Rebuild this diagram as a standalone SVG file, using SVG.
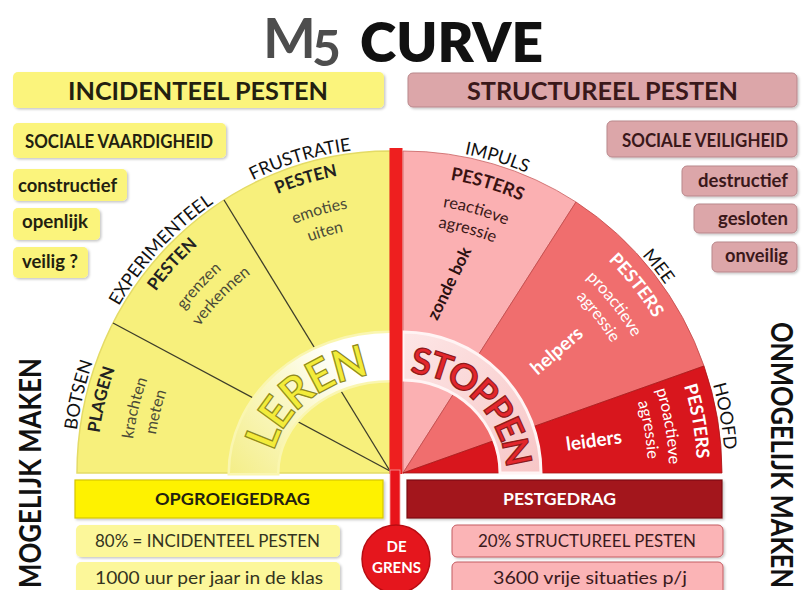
<svg xmlns="http://www.w3.org/2000/svg" width="803" height="590" viewBox="0 0 803 590">
<defs>
<style>
text{font-family:Lato,"Open Sans","Noto Sans",sans-serif}
.b{font-weight:700}
.yb{fill:#fbf47c}
.pb{fill:#dca6a9;stroke:#b9878b;stroke-width:1}
.dk{fill:#231f10}
.dr{fill:#3a181a}
.lab{font-size:18px;fill:#111}
.bl{font-size:17px;font-weight:700;fill:#222}
.lw{font-size:16px;fill:#4a4a38}
.rw{font-size:16.5px;fill:#3a1818}
.rb{font-size:18px;font-weight:700;fill:#3a1212}
.ww{font-size:16.5px;fill:#fff}
.wb{font-size:18px;font-weight:700;fill:#fff}
.sline{stroke:#3d3d2a;stroke-width:1.3;fill:none}
</style>
<filter id="sh" x="-5%" y="-10%" width="115%" height="140%">
<feDropShadow dx="1.5" dy="1.5" stdDeviation="1.2" flood-color="#000" flood-opacity="0.22"/>
</filter>
<linearGradient id="lg" gradientUnits="userSpaceOnUse" x1="230" y1="473" x2="390" y2="333">
<stop offset="0" stop-color="#f4ee88"/>
<stop offset="0.5" stop-color="#fbf9d2"/>
<stop offset="0.75" stop-color="#ffffff"/>
<stop offset="1" stop-color="#ffffff"/>
</linearGradient>
<linearGradient id="rg" gradientUnits="userSpaceOnUse" x1="403" y1="332" x2="541" y2="473">
<stop offset="0" stop-color="#fde6e6"/>
<stop offset="1" stop-color="#f7c6c6"/>
</linearGradient>
<path id="lo" d="M74,473 A316 325 0 0 1 390,148"/>
<path id="l20" d="M97,473 A293 302 0 0 1 390,171"/>
<path id="l54" d="M131,473 A259 268 0 0 1 390,205"/>
<path id="l76" d="M153,473 A237 246 0 0 1 390,227"/>
<path id="ro" d="M403,148 A322 325 0 0 1 725,473"/>
<path id="r25" d="M403,176 A294 297 0 0 1 697,473"/>
<path id="r53" d="M403,204 A266 269 0 0 1 669,473"/>
<path id="r74" d="M403,225 A245 248 0 0 1 648,473"/>
<path id="lerenP" d="M271,473 A119 99 0 0 1 390,374"/>
<path id="stopP" d="M403,373 A103 100 0 0 1 506,473"/>
</defs>
<rect width="803" height="590" fill="#fff"/>

<g id="title">
<text x="263" y="58" font-size="56" class="b" fill="#4d4d4d">M</text>
<text x="312" y="66" font-size="50" class="b" fill="#4d4d4d">5</text>
<text x="360" y="62" font-size="54" font-weight="800" fill="#111" textLength="183" lengthAdjust="spacingAndGlyphs">CURVE</text>
</g>

<g id="header-incidenteel">
<rect x="13" y="72" width="371" height="36" rx="5" class="yb" filter="url(#sh)"/>
<text x="68" y="100" font-size="25" class="b dk" textLength="260" lengthAdjust="spacingAndGlyphs">INCIDENTEEL PESTEN</text>
</g>
<g id="header-structureel">
<rect x="408" y="73" width="389" height="34" rx="5" class="pb" filter="url(#sh)"/>
<text x="467" y="100" font-size="25" class="b dr" textLength="271" lengthAdjust="spacingAndGlyphs">STRUCTUREEL PESTEN</text>
</g>

<g id="left-props">
<g id="sociale-vaardigheid"><rect x="13" y="123" width="213" height="35" rx="5" class="yb" filter="url(#sh)"/>
<text x="25" y="148" font-size="18" class="b dk" textLength="188" lengthAdjust="spacingAndGlyphs">SOCIALE VAARDIGHEID</text></g>
<g id="constructief"><rect x="13" y="169" width="114" height="32" rx="5" class="yb" filter="url(#sh)"/>
<text x="18" y="192" font-size="19" class="b dk" textLength="99" lengthAdjust="spacingAndGlyphs">constructief</text></g>
<g id="openlijk"><rect x="13" y="208" width="87" height="32" rx="5" class="yb" filter="url(#sh)"/>
<text x="22" y="228" font-size="19" class="b dk" textLength="66" lengthAdjust="spacingAndGlyphs">openlijk</text></g>
<g id="veilig"><rect x="13" y="247" width="75" height="31" rx="5" class="yb" filter="url(#sh)"/>
<text x="22" y="268" font-size="19" class="b dk" textLength="56" lengthAdjust="spacingAndGlyphs">veilig ?</text></g>
</g>

<g id="right-props">
<g id="sociale-veiligheid"><rect x="607" y="121" width="190" height="36" rx="5" class="pb" filter="url(#sh)"/>
<text x="622" y="147" font-size="18" class="b dr" textLength="166" lengthAdjust="spacingAndGlyphs">SOCIALE VEILIGHEID</text></g>
<g id="destructief"><rect x="682" y="166" width="115" height="30" rx="5" class="pb" filter="url(#sh)"/>
<text x="698" y="187" font-size="19" class="b dr" textLength="90" lengthAdjust="spacingAndGlyphs">destructief</text></g>
<g id="gesloten"><rect x="694" y="204" width="103" height="29" rx="5" class="pb" filter="url(#sh)"/>
<text x="718" y="225" font-size="19" class="b dr" textLength="70" lengthAdjust="spacingAndGlyphs">gesloten</text></g>
<g id="onveilig"><rect x="712" y="242" width="85" height="30" rx="5" class="pb" filter="url(#sh)"/>
<text x="725" y="262" font-size="19" class="b dr" textLength="63" lengthAdjust="spacingAndGlyphs">onveilig</text></g>
</g>

<g id="quadrant-left">
<path d="M390,473 L77,473 A313 322 0 0 1 390,151 Z" fill="#f7f07c" stroke="#e4db66" stroke-width="1.5"/>
<line x1="390" y1="471" x2="113" y2="323" class="sline"/>
<line x1="390" y1="471" x2="224" y2="200" class="sline"/>
<path d="M230,473 A160 140 0 0 1 390,333 L390,380 A113 93 0 0 0 277,473 Z" fill="url(#lg)" stroke="#faf6b0" stroke-width="5"/>
<path d="M230,473 A160 140 0 0 1 390,333 L390,380 A113 93 0 0 0 277,473 Z" fill="url(#lg)"/>
<text font-size="44" class="b" fill="#f3ec3a" stroke="#8f8a20" stroke-width="1.2" letter-spacing="-1.5" text-anchor="middle"><textPath href="#lerenP" startOffset="50%">LEREN</textPath></text>
<text class="lab" font-size="17" text-anchor="middle"><textPath href="#lo" startOffset="15.5%">BOTSEN</textPath></text>
<text class="bl" text-anchor="middle"><textPath href="#l20" startOffset="15.7%">PLAGEN</textPath></text>
<text class="lw" text-anchor="middle"><textPath href="#l54" startOffset="15.7%">krachten</textPath></text>
<text class="lw" text-anchor="middle"><textPath href="#l76" startOffset="16%">meten</textPath></text>
<text class="lab" text-anchor="middle"><textPath href="#lo" startOffset="48.7%">EXPERIMENTEEL</textPath></text>
<text class="bl" text-anchor="middle"><textPath href="#l20" startOffset="48.2%">PESTEN</textPath></text>
<text class="lw" text-anchor="middle"><textPath href="#l54" startOffset="48.8%">grenzen</textPath></text>
<text class="lw" text-anchor="middle"><textPath href="#l76" startOffset="50.9%">verkennen</textPath></text>
<text class="lab" text-anchor="middle"><textPath href="#lo" startOffset="82%">FRUSTRATIE</textPath></text>
<text class="bl" text-anchor="middle"><textPath href="#l20" startOffset="82%">PESTEN</textPath></text>
<text class="lw" text-anchor="middle"><textPath href="#l54" startOffset="83%">emoties</textPath></text>
<text class="lw" text-anchor="middle"><textPath href="#l76" startOffset="83%">uiten</textPath></text>
</g>

<g id="quadrant-right">
<path d="M403,473 L403,151 A319 322 0 0 1 576,202 Z" fill="#fbb0b2" stroke="#c86060" stroke-width="0.8"/>
<path d="M403,473 L576,202 A319 322 0 0 1 704,366 Z" fill="#f06e6e" stroke="#c04848" stroke-width="0.8"/>
<path d="M403,473 L704,366 A319 322 0 0 1 722,473 Z" fill="#d8161d" stroke="#a81818" stroke-width="0.8"/>
<path d="M403,332 A138 141 0 0 1 541,473 L500,473 A97 93 0 0 0 403,380 Z" fill="url(#rg)" stroke="#fff4f4" stroke-width="3"/>
<text font-size="36" class="b" fill="#e3262c" stroke="#8c1a1a" stroke-width="1.2" letter-spacing="-2.5" text-anchor="middle"><textPath href="#stopP" startOffset="50%">STOPPEN</textPath></text>
<text class="lab" text-anchor="middle"><textPath href="#ro" startOffset="18.6%">IMPULS</textPath></text>
<text class="rb" text-anchor="middle"><textPath href="#r25" startOffset="18.2%">PESTERS</textPath></text>
<text class="rw" text-anchor="middle"><textPath href="#r53" startOffset="17.4%">reactieve</textPath></text>
<text class="rw" text-anchor="middle"><textPath href="#r74" startOffset="16.6%">agressie</textPath></text>
<text x="449.5" y="289" font-size="17" class="b" fill="#2a1010" text-anchor="middle" transform="rotate(-64 449.5 283.5)">zonde bok</text>
<text class="lab" text-anchor="middle"><textPath href="#ro" startOffset="56.8%">MEE</textPath></text>
<text class="wb" text-anchor="middle"><textPath href="#r25" startOffset="57%">PESTERS</textPath></text>
<text class="ww" text-anchor="middle"><textPath href="#r53" startOffset="57.2%">proactieve</textPath></text>
<text class="ww" text-anchor="middle"><textPath href="#r74" startOffset="57.2%">agressie</textPath></text>
<text x="557" y="357" font-size="19" class="b" fill="#fff" text-anchor="middle" transform="rotate(-41 557 351)">helpers</text>
<text class="lab" text-anchor="middle"><textPath href="#ro" startOffset="88.9%">HOOFD</textPath></text>
<text class="wb" text-anchor="middle"><textPath href="#r25" startOffset="88.9%">PESTERS</textPath></text>
<text class="ww" text-anchor="middle"><textPath href="#r53" startOffset="88.9%">proactieve</textPath></text>
<text class="ww" text-anchor="middle"><textPath href="#r74" startOffset="88.9%">agressie</textPath></text>
<text x="594" y="447" font-size="19" class="b" fill="#fff" text-anchor="middle" transform="rotate(-8 594 441)">leiders</text>
</g>

<g id="connectors">
<rect x="389.5" y="148" width="13" height="326" fill="#ee1f1f"/>
<rect x="390" y="470" width="10" height="60" fill="#e8141b" stroke="#f6a0a0" stroke-width="0.8"/>
</g>

<g id="de-grens">
<circle cx="396" cy="559" r="34" fill="#e5161d" stroke="#b80d12" stroke-width="1.5"/>
<text x="396.5" y="552" font-size="15" class="b" fill="#fff" text-anchor="middle">DE</text>
<text x="396.5" y="573" font-size="15" class="b" fill="#fff" text-anchor="middle">GRENS</text>
</g>

<g id="opgroeigedrag">
<rect x="75" y="480" width="308" height="38" fill="#fef200" stroke="#d6c600" stroke-width="1.2" filter="url(#sh)"/>
<text x="155" y="505" font-size="17" class="b dk" textLength="155" lengthAdjust="spacingAndGlyphs">OPGROEIGEDRAG</text>
</g>
<g id="incidenteel-80">
<rect x="76" y="525" width="264" height="32" rx="5" fill="#fcf79a" filter="url(#sh)"/>
<text x="95" y="547" font-size="17" fill="#33331e" textLength="225" lengthAdjust="spacingAndGlyphs">80% = INCIDENTEEL PESTEN</text>
</g>
<g id="uur-1000">
<rect x="76" y="562" width="264" height="34" rx="5" fill="#fcf79a" filter="url(#sh)"/>
<text x="95" y="584" font-size="17" fill="#33331e" textLength="228" lengthAdjust="spacingAndGlyphs">1000 uur per jaar in de klas</text>
</g>

<g id="pestgedrag">
<rect x="407" y="480" width="315" height="38" fill="#a3151a" stroke="#7d0c10" stroke-width="1.2" filter="url(#sh)"/>
<text x="503" y="505" font-size="17" class="b" fill="#fff" textLength="113" lengthAdjust="spacingAndGlyphs">PESTGEDRAG</text>
</g>
<g id="structureel-20">
<rect x="452" y="525" width="271" height="32" rx="5" fill="#fbb4b6" stroke="#c45c62" stroke-width="1" filter="url(#sh)"/>
<text x="478" y="547" font-size="17" fill="#3a1a1c" textLength="218" lengthAdjust="spacingAndGlyphs">20% STRUCTUREEL PESTEN</text>
</g>
<g id="situaties-3600">
<rect x="452" y="562" width="271" height="34" rx="5" fill="#fbb4b6" stroke="#c45c62" stroke-width="1" filter="url(#sh)"/>
<text x="493" y="584" font-size="17" fill="#3a1a1c" textLength="194" lengthAdjust="spacingAndGlyphs">3600 vrije situaties p/j</text>
</g>

<g id="mogelijk-maken">
<text transform="translate(41,473) rotate(-90)" x="0" y="0" font-size="31" class="b" fill="#111" text-anchor="middle" textLength="230" lengthAdjust="spacingAndGlyphs">MOGELIJK MAKEN</text>
</g>
<g id="onmogelijk-maken">
<text transform="translate(771,455) rotate(90)" x="0" y="0" font-size="31" class="b" fill="#111" text-anchor="middle" textLength="266" lengthAdjust="spacingAndGlyphs">ONMOGELIJK MAKEN</text>
</g>
</svg>
